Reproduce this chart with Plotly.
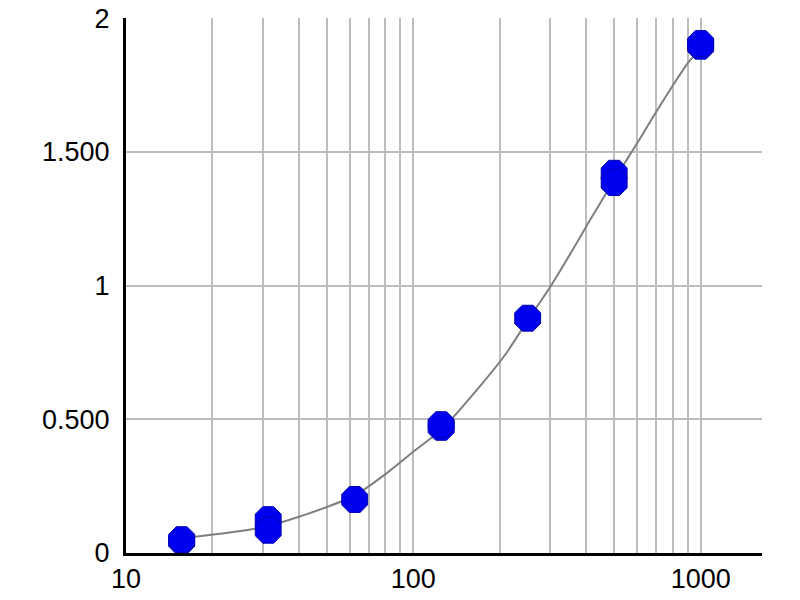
import plotly.graph_objects as go

# Measured points (duplicates overlap)
point_x = [15.625, 15.625, 31.25, 31.25, 62.5, 125, 125, 250, 500, 500, 1000, 1000]
point_y = [0.045, 0.05, 0.125, 0.085, 0.20, 0.47, 0.48, 0.878, 1.42, 1.385, 1.895, 1.905]

# Fitted curve
curve_x = [15.625, 17.7, 22, 27.1, 32, 38.3, 50, 62.5, 80, 103, 125, 171, 210, 250, 299, 357, 412, 460, 500, 553, 630, 705, 800, 903, 1000]
curve_y = [0.055, 0.062, 0.074, 0.088, 0.104, 0.129, 0.172, 0.215, 0.295, 0.39, 0.46, 0.625, 0.745, 0.87, 0.994, 1.13, 1.245, 1.33, 1.395, 1.47, 1.568, 1.655, 1.748, 1.833, 1.885]

x_grid_vals = [10, 20, 30, 40, 50, 60, 70, 80, 90, 100, 200, 300, 400, 500, 600, 700, 800, 900, 1000]
x_grid_text = ["10", "", "", "", "", "", "", "", "", "100", "", "", "", "", "", "", "", "", "1000"]
y_tick_vals = [0, 0.5, 1, 1.5, 2]
y_tick_text = ["0", "0.500", "1", "1.500", "2"]

fig = go.Figure()
fig.add_trace(go.Scatter(
    x=curve_x, y=curve_y, mode="lines",
    line=dict(color="#7f7f7f", width=2, shape="spline", smoothing=0.6),
    hoverinfo="skip", showlegend=False,
))
fig.add_trace(go.Scatter(
    x=point_x, y=point_y, mode="markers",
    marker=dict(symbol="octagon", size=28, color="#0000f0", line=dict(color="#0000b0", width=1)),
    showlegend=False,
))

font = dict(family="Liberation Sans, Arial, sans-serif", size=27, color="#000000")

fig.update_layout(
    width=800, height=600,
    margin=dict(l=126, r=38, t=18, b=47, autoexpand=False),
    paper_bgcolor="white", plot_bgcolor="white",
    font=font,
    xaxis=dict(
        type="log", range=[1.0, 3.2135],
        tickmode="array", tickvals=x_grid_vals, ticktext=x_grid_text,
        showgrid=True, gridcolor="#bdbdbd", gridwidth=1.5,
        showline=True, linecolor="#000000", linewidth=3,
        ticks="", ticklabelstandoff=0, zeroline=False, automargin=False,
        tickfont=font,
    ),
    yaxis=dict(
        range=[0, 2.0005],
        tickmode="array", tickvals=y_tick_vals, ticktext=y_tick_text,
        showgrid=True, gridcolor="#bdbdbd", gridwidth=1.5,
        showline=True, linecolor="#000000", linewidth=3,
        ticks="", ticklabelstandoff=8, zeroline=False, automargin=False,
        tickfont=font,
    ),
)

fig.write_html("out.html", config={"displayModeBar": False},
               post_script="document.body.style.margin='0px';")
